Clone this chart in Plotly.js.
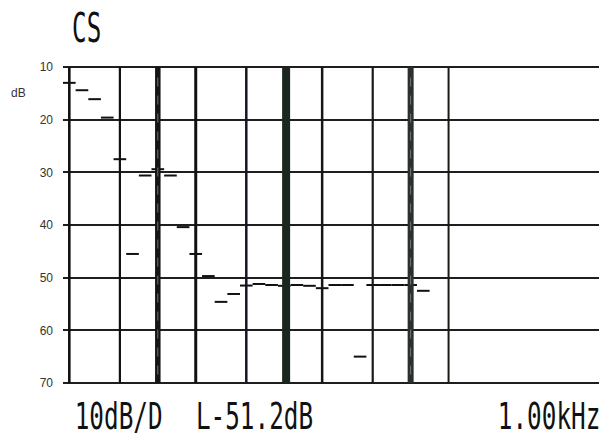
<!DOCTYPE html>
<html><head><meta charset="utf-8">
<script src="https://cdn.plot.ly/plotly-3.0.1.min.js"></script>
<style>html,body{margin:0;padding:0;background:#fff}#chart{width:606px;height:439px}</style>
</head><body><div id="chart"></div>
<script>
// ---- data ----
const bands  = [0,1,2,3,4,5,6,7,8,9,10,11,12,13,14,15,16,17,18,19,20,21,22,23,24,25,26,27,28];
const levels = [13.0,14.4,16.1,19.6,27.5,45.5,30.6,29.4,30.6,40.4,45.5,49.7,54.6,53.1,51.5,51.2,51.4,51.55,51.4,51.55,52.0,51.4,51.4,65.0,51.4,51.4,51.4,51.4,52.5];
const gridBands = [0,4,7,10,14,17.15,20,24,27,30];
const yTicks = [10,20,30,40,50,60,70];
const yTickText = ['10','20','30','40','50','60','70'];
const unitText = 'dB';
const titleText = 'CS';
const scaleText = '10dB/D';
const levelText = 'L-51.2dB';
const freqText = '1.00kHz';

// ---- styles ----
const gridLineWidths = [2.6,2.2,5.5,3,2.5,8,2.5,2.2,6,2];
const gridLineColors = ['#111','#111','#151515','#111','#161620','#1b261f','#161616','#1a1a14','#2b2f2f','#1a1a14'];

const traces = [];
const dx = [], dy = [];
bands.forEach((b,i)=>{ dx.push(b-0.5,b+0.5,null); dy.push(levels[i],levels[i],null); });
traces.push({type:'scatter',mode:'lines',x:dx,y:dy,line:{color:'#111',width:2},hoverinfo:'skip',showlegend:false});
gridBands.forEach((g,i)=>{
  traces.push({type:'scatter',mode:'lines',x:[g,g],y:[10,70],line:{color:gridLineColors[i],width:gridLineWidths[i]},hoverinfo:'skip',showlegend:false});
});
// faint streaks inside the doubled lines
[2,8].forEach(i=>{
  traces.push({type:'scatter',mode:'lines',x:[gridBands[i],gridBands[i]],y:[12,69],line:{color:'#8a8a8a',width:0.8,dash:'dash'},hoverinfo:'skip',showlegend:false});
});

const L=63, R=7, T=66, B=55, W=606, H=439;
const pw=W-L-R, ph=H-T-B;
const px = v => (v-L)/pw;
const py = v => (H-B-v)/ph;
const mono = {family:'DejaVu Sans Mono, monospace', size:38, color:'#111'};
const titleFont = {family:'DejaVu Sans Mono, monospace', size:41, color:'#111'};

const layout = {
  width:W, height:H,
  margin:{l:L,r:R,t:T,b:B,pad:0},
  paper_bgcolor:'#fff', plot_bgcolor:'#fff',
  showlegend:false,
  xaxis:{range:[-0.5,41.9],showgrid:false,zeroline:false,showticklabels:false,ticks:'',showline:false},
  yaxis:{range:[70.2,9.8],tickmode:'array',tickvals:yTicks,ticktext:yTickText,showgrid:true,gridcolor:'#1e1e1e',gridwidth:1.8,
         zeroline:false,showline:false,ticks:'',ticklabelstandoff:9,
         tickfont:{family:'Liberation Sans, Arial, sans-serif',size:12,color:'#333'}},
  annotations:[
    {text:unitText,xref:'paper',yref:'paper',x:px(18),y:py(93),xanchor:'center',yanchor:'middle',showarrow:false,
     font:{family:'Liberation Sans, Arial, sans-serif',size:12,color:'#333'}},
    {text:titleText,xref:'paper',yref:'paper',x:px(86.7),y:py(28),xanchor:'center',yanchor:'middle',showarrow:false,font:titleFont},
    {text:scaleText,xref:'paper',yref:'paper',x:px(118.3),y:py(416.3),xanchor:'center',yanchor:'middle',showarrow:false,font:mono,borderpad:0},
    {text:levelText,xref:'paper',yref:'paper',x:px(254),y:py(416.3),xanchor:'center',yanchor:'middle',showarrow:false,font:mono,borderpad:0},
    {text:freqText,xref:'paper',yref:'paper',x:px(549),y:py(416.3),xanchor:'center',yanchor:'middle',showarrow:false,font:mono,borderpad:0}
  ]
};

Plotly.newPlot('chart',traces,layout,{staticPlot:true,displayModeBar:false}).then(gd=>{
  const scales = {};
  scales[titleText]=0.59; scales[scaleText]=0.64; scales[levelText]=0.64; scales[freqText]=0.64;
  gd.querySelectorAll('text.annotation-text').forEach(t=>{
    const s = scales[t.textContent];
    if (s) {
      t.style.transformBox='fill-box';
      t.style.transformOrigin='center';
      t.style.transform='scaleX('+s+')';
    }
  });
});
</script>
</body></html>
